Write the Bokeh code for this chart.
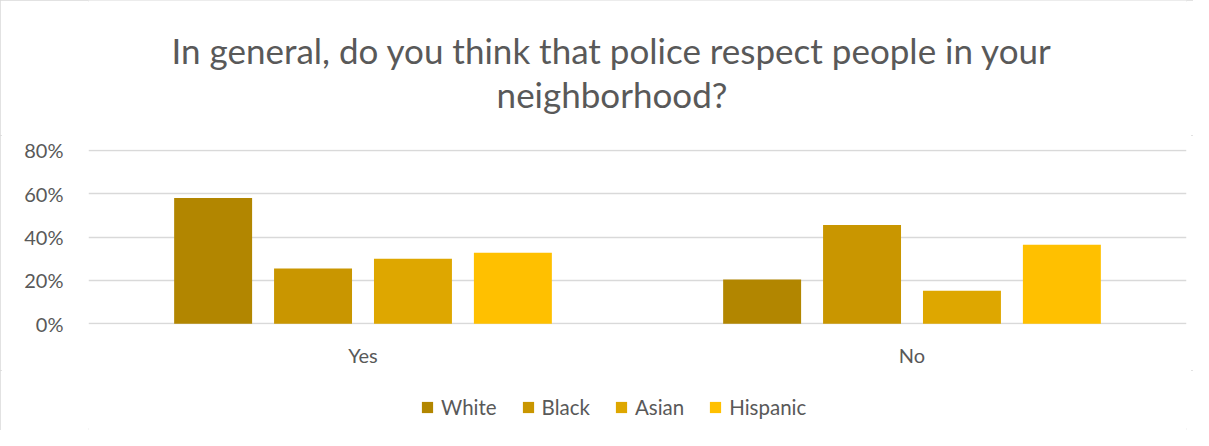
from bokeh.plotting import figure
from bokeh.layouts import column
from bokeh.models import (ColumnDataSource, FactorRange, Range1d, FixedTicker,
                          PrintfTickFormatter, Label, Legend)
from bokeh.transform import dodge
from bokeh.embed import file_html
from bokeh.resources import INLINE

# ---- data ----
categories = ["Yes", "No"]
groups = ["White", "Black", "Asian", "Hispanic"]
white = [58.0, 20.4]
black = [25.5, 45.5]
asian = [30.0, 15.2]
hispanic = [32.7, 36.4]
y_ticks = [0, 20, 40, 60, 80]
title_lines = ["In general, do you think that police respect people in your",
               "neighborhood?"]

colors = ["#B28600", "#C99600", "#DEA700", "#FFC000"]
offsets = [-0.273, -0.091, 0.091, 0.273]
TEXT = "#595959"
FONT = "Lato"
BL, BR = 88, 7   # left / right borders shared by all strips

src = ColumnDataSource(dict(cat=categories, White=white, Black=black,
                            Asian=asian, Hispanic=hispanic))


def strip(height):
    f = figure(width=1193, height=height, x_range=Range1d(0, 1),
               y_range=Range1d(0, 1), output_backend="svg", toolbar_location=None,
               min_border_left=BL, min_border_right=BR,
               min_border_top=0, min_border_bottom=0)
    f.axis.visible = False
    f.grid.visible = False
    f.outline_line_color = None
    f.border_fill_color = "white"
    f.background_fill_color = "white"
    return f


# ---- title strip ----
tf = strip(135)
for txt, yy in zip(title_lines, [86, 42]):
    tf.add_layout(Label(x=523.5, y=yy, x_units="screen", y_units="screen",
                        text=txt, text_align="center", text_baseline="alphabetic",
                        text_font=FONT, text_font_size="35px", text_color=TEXT))

# ---- main chart ----
p = figure(x_range=FactorRange(*categories, range_padding=0),
           y_range=Range1d(-0.3, 80.3),
           frame_width=1098, frame_height=175,
           output_backend="svg", toolbar_location=None,
           min_border_left=BL, min_border_right=BR,
           min_border_top=14, min_border_bottom=46)
p.outline_line_color = None
p.background_fill_color = "white"
p.border_fill_color = "white"

for g, c, off in zip(groups, colors, offsets):
    p.vbar(x=dodge("cat", off, range=p.x_range), top=g, width=0.142,
           source=src, fill_color=c, line_color=None)

p.yaxis.ticker = FixedTicker(ticks=y_ticks)
p.yaxis.formatter = PrintfTickFormatter(format="%d%%")
for ax in (p.xaxis[0], p.yaxis[0]):
    ax.axis_line_color = None
    ax.major_tick_line_color = None
    ax.minor_tick_line_color = None
    ax.major_tick_out = 0
    ax.major_tick_in = 0
    ax.major_label_text_font = FONT
    ax.major_label_text_font_size = "20px"
    ax.major_label_text_color = TEXT
p.yaxis.major_label_standoff = 25
p.xaxis.major_label_standoff = 18

p.xgrid.grid_line_color = None
p.ygrid.grid_line_color = "#D9D9D9"
p.ygrid.grid_line_width = 1.5

# ---- legend strip: same bars, drawn into a window that shows none of them ----
lf = figure(width=1193, height=60, x_range=p.x_range, y_range=Range1d(200, 201),
            output_backend="svg", toolbar_location=None,
            min_border_left=BL, min_border_right=BR,
            min_border_top=0, min_border_bottom=0)
lf.axis.visible = False
lf.grid.visible = False
lf.outline_line_color = None
lf.border_fill_color = "white"
items = []
for g, c, off in zip(groups, colors, offsets):
    r = lf.vbar(x=dodge("cat", off, range=p.x_range), top=g, width=0.142,
                source=src, fill_color=c, line_color=None)
    items.append((g, [r]))
legend = Legend(items=items, orientation="horizontal", location=(332, 11),
                glyph_width=14, glyph_height=14, label_standoff=7, spacing=24,
                label_text_font=FONT, label_text_font_size="20.5px",
                label_text_color=TEXT, border_line_color=None,
                background_fill_alpha=0, margin=0, padding=0)
lf.add_layout(legend, "center")

layout = column(tf, p, lf, spacing=0,
                styles={"outline": "2px solid #D9D9D9", "outline-offset": "-2px"})

open("out.html", "w").write(file_html(layout, INLINE))
